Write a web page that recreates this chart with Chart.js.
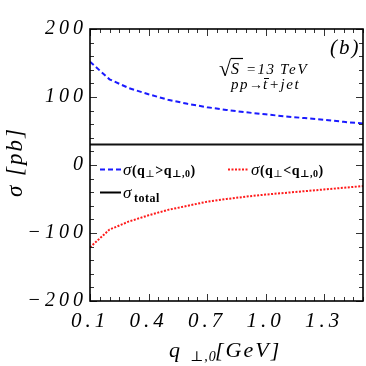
<!DOCTYPE html>
<html><head><meta charset="utf-8">
<script src="https://cdn.jsdelivr.net/npm/chart.js@4.4.0/dist/chart.umd.min.js"></script>
<style>html,body{margin:0;padding:0;background:#fff}#wrap{width:366px;height:366px}</style>
</head><body><div id="wrap"><canvas id="c" width="366" height="366"></canvas></div>
<script>
// ---- data ----
const qValues    = [0.1, 0.2, 0.3, 0.4, 0.5, 0.6, 0.7, 0.8, 0.9, 1.0, 1.1, 1.2, 1.3, 1.4, 1.5];
const sigmaAbove = [152, 126, 113, 104, 96, 90, 85, 81, 77.5, 74.5, 71.5, 69, 66.5, 63.5, 61];
const sigmaBelow = [-121, -95, -83, -74, -66, -60, -54, -50, -46.5, -43.5, -41, -38.5, -36, -33.5, -31];
const sigmaTotal = [30, 30, 30, 30, 30, 30, 30, 30, 30, 30, 30, 30, 30, 30, 30];
const xTickValues = [0.1, 0.4, 0.7, 1.0, 1.3];
const yTickValues = [-200, -100, 0, 100, 200];

const serif = '"Liberation Serif", "DejaVu Serif", serif';
const pts = (ys) => qValues.map((q, i) => ({x: q, y: ys[i]}));

const decor = {
  id: 'decor',
  beforeDraw(chart) { chart.ctx.letterSpacing = '4px'; },
  afterDraw(chart) {
    const {ctx, chartArea: a, scales: {x, y}} = chart;
    ctx.save();
    ctx.letterSpacing = '0px';
    // minor / major inward ticks
    ctx.strokeStyle = '#333'; ctx.lineWidth = 1;
    const seg = (x1, y1, x2, y2) => { ctx.beginPath(); ctx.moveTo(x1, y1); ctx.lineTo(x2, y2); ctx.stroke(); };
    for (let i = 0; i <= 28; i++) {
      const v = 0.1 + 0.05 * i;
      const px = Math.round(x.getPixelForValue(v)) + 0.5;
      const major = xTickValues.some(t => Math.abs(t - v) < 1e-6);
      const L = major ? 7 : 4;
      seg(px, a.bottom, px, a.bottom - L);
      seg(px, a.top, px, a.top + L);
    }
    for (let v = -200; v <= 200; v += 20) {
      const py = Math.round(y.getPixelForValue(v)) + 0.5;
      const major = yTickValues.includes(v);
      const L = major ? 7 : 4;
      seg(a.left, py, a.left + L, py);
      seg(a.right, py, a.right - L, py);
    }
    // frame
    ctx.strokeStyle = '#000'; ctx.lineWidth = 1.6;
    ctx.strokeRect(a.left, a.top, a.right - a.left, a.bottom - a.top);

    ctx.fillStyle = '#000';
    ctx.textBaseline = 'alphabetic';
    ctx.textAlign = 'left';
    // (b)
    ctx.font = 'italic 21px ' + serif; ctx.letterSpacing = '2px';
    ctx.fillText('(b)', 330, 54);
    // sqrt(S) = 13 TeV
    ctx.letterSpacing = '0px';
    ctx.font = '22px ' + serif;
    ctx.fillText('√', 219, 76);
    ctx.lineWidth = 1.2; seg(231, 58.5, 243, 58.5);
    ctx.font = 'italic 16px ' + serif; ctx.letterSpacing = '2px';
    ctx.fillText('S', 231, 74);
    ctx.font = 'italic 15px ' + serif; ctx.letterSpacing = '1.5px';
    ctx.fillText('=13', 246, 74);
    ctx.letterSpacing = '2px';
    ctx.fillText('TeV', 280, 74);
    // pp -> tbar + jet
    ctx.font = 'italic 15px ' + serif; ctx.letterSpacing = '1.5px';
    ctx.fillText('pp', 231, 89);
    ctx.font = '14px ' + serif; ctx.letterSpacing = '0px';
    ctx.fillText('→', 249, 89);
    ctx.font = 'italic 15px ' + serif; ctx.letterSpacing = '1.5px';
    ctx.fillText('t', 263, 89);
    ctx.lineWidth = 1; seg(264, 78.5, 269, 78.5);
    ctx.fillText('+jet', 269, 89);

    // legend
    const legendLine = (x0, yy, color, dash) => {
      ctx.save(); ctx.strokeStyle = color; ctx.lineWidth = 2; ctx.setLineDash(dash);
      seg(x0, yy, x0 + 21, yy); ctx.restore();
    };
    const sigmaLabel = (x0, yy, rel) => {
      let xx = x0; ctx.letterSpacing = '0.5px';
      const put = (t, f, dy) => { ctx.font = f; ctx.fillText(t, xx, yy + (dy || 0)); xx += ctx.measureText(t).width; };
      put('σ', 'italic 17px ' + serif);
      put('(q', 'bold 14px ' + serif);
      put('⊥', '10px ' + serif, 2);
      put(rel + 'q', 'bold 14px ' + serif);
      put('⊥,0', 'bold 10px ' + serif, 2);
      put(')', 'bold 14px ' + serif);
    };
    legendLine(100, 169.5, '#1a1aff', [5, 3]);
    sigmaLabel(123, 175, '>');
    legendLine(228, 169.5, '#ff1a1a', [2, 1.5]);
    sigmaLabel(251, 175, '<');
    legendLine(100, 192.5, '#000', []);
    ctx.letterSpacing = '0px';
    ctx.font = 'italic 17px ' + serif; ctx.fillText('σ', 123, 198);
    ctx.font = 'bold 12px ' + serif; ctx.letterSpacing = '0.5px'; ctx.fillText('total', 134, 202);

    // x axis title
    ctx.font = 'italic 22px ' + serif; ctx.letterSpacing = '0px';
    ctx.fillText('q', 169, 357);
    ctx.font = 'italic 14px ' + serif; ctx.letterSpacing = '1px';
    ctx.fillText('⊥,0', 190, 361);
    ctx.font = 'italic 22px ' + serif; ctx.letterSpacing = '2px';
    ctx.fillText('[GeV]', 215, 357);

    // y axis title (rotated): sigma lower, [pb] upper
    ctx.save();
    ctx.translate(22, 0); ctx.rotate(-Math.PI / 2);
    ctx.textAlign = 'left';
    ctx.font = 'italic 23px ' + serif; ctx.letterSpacing = '0px';
    ctx.fillText('σ', -197, 0);
    ctx.letterSpacing = '2px';
    ctx.fillText('[pb]', -176, 0);
    ctx.restore();
    ctx.restore();
    ctx.letterSpacing = '0px';
  }
};

new Chart(document.getElementById('c'), {
  type: 'line',
  data: {
    datasets: [
      {label: 'σ(q⊥>q⊥,0)', data: pts(sigmaAbove), borderColor: '#1a1aff', borderWidth: 2, borderDash: [5, 3], pointRadius: 0, fill: false, tension: 0},
      {label: 'σ(q⊥<q⊥,0)', data: pts(sigmaBelow), borderColor: '#ff1a1a', borderWidth: 2, borderDash: [2, 1.5], pointRadius: 0, fill: false, tension: 0},
      {label: 'σtotal', data: pts(sigmaTotal), borderColor: '#111', borderWidth: 2, pointRadius: 0, fill: false, tension: 0}
    ]
  },
  options: {
    responsive: false, animation: false, devicePixelRatio: 1,
    layout: {padding: {left: 0, top: 29, right: 3, bottom: 0}},
    plugins: {legend: {display: false}, tooltip: {enabled: false}},
    scales: {
      x: {
        type: 'linear', min: 0.1, max: 1.5,
        afterBuildTicks: s => { s.ticks = xTickValues.map(v => ({value: v})); },
        afterFit: s => { s.height = 65; },
        grid: {display: false, drawTicks: false}, border: {display: false},
        ticks: {color: '#000', padding: 8, maxRotation: 0, autoSkip: false,
          font: {family: serif, style: 'italic', size: 21},
          callback: v => Number(v).toFixed(1)}
      },
      y: {
        type: 'linear', min: -200, max: 200,
        afterBuildTicks: s => { s.ticks = yTickValues.map(v => ({value: v})); },
        afterFit: s => { s.width = 90; },
        grid: {display: false, drawTicks: false}, border: {display: false},
        ticks: {color: '#000', padding: 3, autoSkip: false,
          font: {family: serif, style: 'italic', size: 20},
          callback: v => v < 0 ? '−' + Math.abs(v) : String(v)}
      }
    }
  },
  plugins: [decor]
});
</script></body></html>
